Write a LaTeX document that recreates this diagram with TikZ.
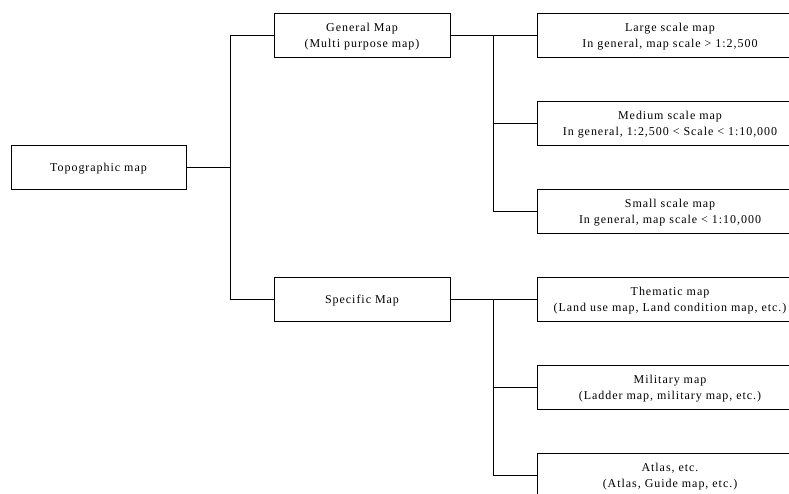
\documentclass[tikz,border=0pt]{standalone}
\usepackage{fontspec}
\setmainfont{Liberation Serif}[LetterSpace=8]
\begin{document}
\begin{tikzpicture}[x=1pt,y=-1pt,
  box/.style={draw,line width=0.9pt,inner sep=0pt,align=center,font=\fontsize{12}{16}\selectfont,text depth=0pt},
  lbox/.style={box,minimum width=175pt,minimum height=44pt},
  rbox/.style={box,minimum width=266pt,minimum height=44pt},
  conn/.style={line width=0.9pt}]
\useasboundingbox (0,0) rectangle (789,493);
\clip (0,0) rectangle (789,493);
\node[lbox] (topo) at (98.5,167) {Topographic map};
\node[lbox,minimum width=176pt] (gen) at (362,35) {General Map\\(Multi purpose map)};
\node[lbox,minimum width=176pt] (spec) at (362,299) {Specific Map};
\node[rbox] (large) at (670,35) {Large scale map\\In general, map scale {>} 1:2,500};
\node[rbox] (medium) at (670,123) {Medium scale map\\In general, 1:2,500 {<} Scale {<} 1:10,000};
\node[rbox] (small) at (670,211) {Small scale map\\In general, map scale {<} 1:10,000};
\node[rbox] (them) at (670,299) {Thematic map\\(Land use map, Land condition map, etc.)};
\node[rbox] (mil) at (670,387) {Military map\\(Ladder map, military map, etc.)};
\node[rbox] (atlas) at (670,475) {Atlas, etc.\\(Atlas, Guide map, etc.)};
\coordinate (j1) at (230,167);
\coordinate (j2) at (493,35);
\coordinate (j3) at (493,299);
\draw[conn] (topo.east) -- (j1);
\draw[conn] (j1) |- (gen.west);
\draw[conn] (j1) |- (spec.west);
\draw[conn] (gen.east) -- (large.west);
\draw[conn] (j2) |- (medium.west);
\draw[conn] (j2) |- (small.west);
\draw[conn] (spec.east) -- (them.west);
\draw[conn] (j3) |- (mil.west);
\draw[conn] (j3) |- (atlas.west);
\end{tikzpicture}
\end{document}
